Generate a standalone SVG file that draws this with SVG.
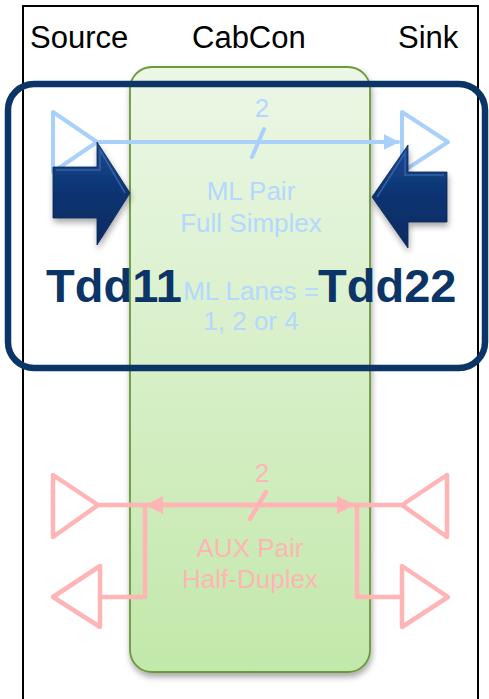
<svg xmlns="http://www.w3.org/2000/svg" width="489" height="699" viewBox="0 0 489 699">
<defs>
<linearGradient id="gGreen" x1="0" y1="0" x2="0" y2="1">
<stop offset="0" stop-color="#ecf7e6"/>
<stop offset="1" stop-color="#c2e8aa"/>
</linearGradient>
<linearGradient id="gNavy" x1="0" y1="0" x2="0" y2="1">
<stop offset="0" stop-color="#1b4a90"/>
<stop offset="0.5" stop-color="#0c3372"/>
<stop offset="1" stop-color="#0a2b60"/>
</linearGradient>
<filter id="shadow" x="-20%" y="-20%" width="140%" height="140%">
<feGaussianBlur in="SourceAlpha" stdDeviation="3"/>
<feOffset dx="1" dy="4" result="b"/>
<feComponentTransfer><feFuncA type="linear" slope="0.35"/></feComponentTransfer>
<feMerge><feMergeNode/><feMergeNode in="SourceGraphic"/></feMerge>
</filter>
<marker id="mBlue" viewBox="0 0 10 10" refX="9" refY="5" markerWidth="4" markerHeight="4" orient="auto-start-reverse" markerUnits="strokeWidth">
<path d="M0,0 L10,5 L0,10 z" fill="#a9d0fb"/>
</marker>
<marker id="mPink" viewBox="0 0 10 10" refX="9" refY="5" markerWidth="4" markerHeight="4" orient="auto-start-reverse" markerUnits="strokeWidth">
<path d="M0,0 L10,5 L0,10 z" fill="#ffb5b5"/>
</marker>
<style>
.hdr{font-family:"Liberation Sans",Arial,sans-serif;font-size:31px;fill:#000}
.blue{font-family:"Liberation Sans",Arial,sans-serif;font-size:26px;fill:#b4d8ff;text-anchor:middle}
.pink{font-family:"Liberation Sans",Arial,sans-serif;font-size:26px;fill:#ffb5b5;text-anchor:middle}
.tdd{font-family:"Liberation Sans",Arial,sans-serif;font-size:47px;font-weight:bold;fill:#0b3566}
.bl{fill:none;stroke:#a9d0fb;stroke-width:4;stroke-linejoin:round;stroke-linecap:round}
.pk{fill:none;stroke:#ffb5b5;stroke-width:4.5;stroke-linejoin:round;stroke-linecap:round}
.arrow{fill:url(#gNavy);stroke:#082654;stroke-width:0.8;filter:url(#shadow)}
.bevel{fill:none;stroke:#3a6bb3;stroke-width:1.5;opacity:0.8}
</style>
</defs>
<rect width="489" height="699" fill="#fff"/>

<g id="frame">
<path d="M23,705 L23,6 L478,6 L478,705" fill="none" stroke="#000" stroke-width="2"/>
</g>

<g id="headers">
<text class="hdr" x="30" y="48">Source</text>
<text class="hdr" x="192" y="48">CabCon</text>
<text class="hdr" x="398" y="48">Sink</text>
</g>

<g id="cabcon">
<rect x="130" y="67" width="240" height="605" rx="22" ry="22" fill="url(#gGreen)" stroke="#6a9a3c" stroke-width="1.8" filter="url(#shadow)"/>
</g>

<g id="ml-source">
<polygon class="bl" points="53,112 53,172 97,142"/>
</g>
<g id="ml-sink">
<polygon class="bl" points="402,112 402,172 448,142"/>
</g>

<g id="aux-source">
<polygon class="pk" points="53,475 53,537 98,505"/>
<polygon class="pk" points="100,566 100,627 53,597"/>
</g>
<g id="aux-sink">
<polygon class="pk" points="447,475 447,537 402,505"/>
<polygon class="pk" points="402,566 402,627 448,597"/>
</g>

<g id="connectors">
<line class="bl" x1="97" y1="142" x2="398" y2="142" marker-end="url(#mBlue)"/>
<line class="bl" x1="252" y1="157" x2="264" y2="129"/>
<line class="pk" x1="98" y1="505" x2="402" y2="505"/>
<line class="pk" x1="147" y1="505" x2="353" y2="505" marker-start="url(#mPink)" marker-end="url(#mPink)"/>
<polyline class="pk" points="145,505 145,597 100,597"/>
<polyline class="pk" points="357,505 357,597 402,597"/>
<line class="pk" x1="250" y1="519" x2="266" y2="492"/>
</g>

<g id="labels">
<text class="blue" x="262" y="117">2</text>
<text class="blue" x="251" y="200">ML Pair</text>
<text class="blue" x="251" y="232">Full Simplex</text>
<text class="blue" x="251" y="300">ML Lanes =</text>
<text class="blue" x="251" y="330">1, 2 or 4</text>
<text class="pink" x="262" y="482">2</text>
<text class="pink" x="250" y="557">AUX Pair</text>
<text class="pink" x="250" y="588">Half-Duplex</text>
</g>

<g id="focus">
<rect x="8" y="84" width="477" height="284" rx="26" ry="26" fill="none" stroke="#0b3566" stroke-width="6.5"/>
</g>

<g id="tdd11">
<polygon class="arrow" points="53,167 97,167 97,142 130,193 97,245 97,218 53,218"/>
<polyline class="bevel" points="56,170 100,170 100,150 125,193"/>
<text class="tdd" x="46" y="302">Tdd11</text>
</g>

<g id="tdd22">
<polygon class="arrow" points="447,172 408,172 408,145 372,197 408,248 408,222 447,222"/>
<polyline class="bevel" points="444,175 405,175 405,153 377,197"/>
<text class="tdd" x="318" y="302">Tdd22</text>
</g>
</svg>
